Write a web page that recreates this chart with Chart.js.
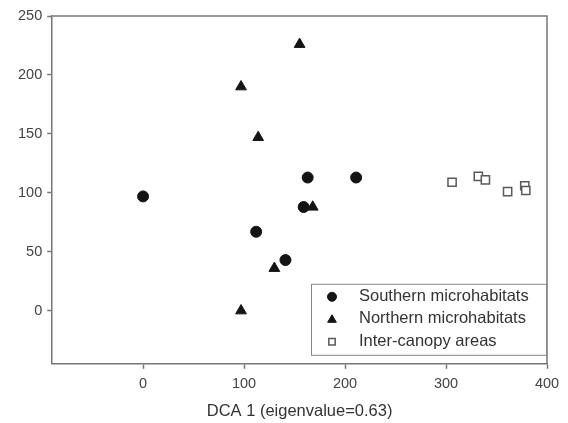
<!DOCTYPE html>
<html>
<head>
<meta charset="utf-8">
<script src="https://cdn.jsdelivr.net/npm/chart.js@4/dist/chart.umd.min.js"></script>
<style>
  html, body { margin: 0; padding: 0; background: #ffffff; }
  #wrap { width: 568px; height: 423px; position: relative; }
</style>
</head>
<body>
<div id="wrap"><canvas id="c" width="568" height="423"></canvas></div>
<script>
// ---- data ----
const seriesNames = ["Southern microhabitats", "Northern microhabitats", "Inter-canopy areas"];
const southernX = [0, 112, 141, 159, 163, 211];
const southernY = [97, 67, 43, 88, 113, 113];
const northernX = [97, 114, 155, 97, 130, 168];
const northernY = [190, 147, 226, 0, 36, 88];
const interX = [306, 332, 339, 361, 378, 379];
const interY = [109, 114, 111, 101, 106, 102];
const xTicks = [0, 100, 200, 300, 400];
const yTicks = [0, 50, 100, 150, 200, 250];
const xTitle = "DCA 1 (eigenvalue=0.63)";

const pts = (xs, ys) => xs.map((x, i) => ({ x: x, y: ys[i] }));
const AXIS = '#777777';
const FONT = "'Liberation Sans', Arial, sans-serif";

const frameAndLegend = {
  id: 'frameAndLegend',
  afterDatasetsDraw(chart) {
    const ctx = chart.ctx, a = chart.chartArea;
    ctx.save();
    // top and right frame lines
    ctx.strokeStyle = AXIS; ctx.lineWidth = 1.5;
    ctx.beginPath();
    ctx.moveTo(a.left, a.top); ctx.lineTo(a.right, a.top); ctx.lineTo(a.right, a.bottom);
    ctx.stroke();
    // legend box inside lower right
    const bw = 235, bh = 71;
    const bx = a.right - bw - 1, by = a.bottom - bh - 9;
    ctx.fillStyle = '#ffffff';
    ctx.fillRect(bx, by, bw, bh);
    ctx.strokeStyle = '#888888'; ctx.lineWidth = 1;
    ctx.strokeRect(bx + 0.5, by + 0.5, bw, bh);
    const rows = [by + 13, by + 35, by + 58];
    chart.data.datasets.forEach((ds, i) => {
      const mx = bx + 21, my = rows[i];
      ctx.fillStyle = ds.pointBackgroundColor;
      ctx.strokeStyle = ds.pointBorderColor;
      ctx.lineWidth = ds.pointBorderWidth;
      Chart.helpers.drawPoint(ctx, { pointStyle: ds.pointStyle, radius: ds.pointStyle === 'triangle' ? 5 : 4.5, borderWidth: ds.pointBorderWidth }, mx, my + (ds.pointStyle === 'triangle' ? 1 : 0));
      ctx.fillStyle = '#333333';
      ctx.font = "16.5px " + FONT;
      ctx.textBaseline = 'middle';
      ctx.textAlign = 'left';
      ctx.fillText(ds.label, bx + 48, my);
    });
    ctx.restore();
  }
};

new Chart(document.getElementById('c'), {
  type: 'scatter',
  data: {
    datasets: [
      { label: seriesNames[0], data: pts(southernX, southernY), pointStyle: 'circle', pointRadius: 5.5,
        pointBackgroundColor: '#141414', pointBorderColor: '#141414', pointBorderWidth: 1 },
      { label: seriesNames[1], data: pts(northernX, northernY), pointStyle: 'triangle', pointRadius: 6.2,
        pointBackgroundColor: '#141414', pointBorderColor: '#141414', pointBorderWidth: 1 },
      { label: seriesNames[2], data: pts(interX, interY), pointStyle: 'rect', pointRadius: 5.8,
        pointBackgroundColor: '#ffffff', pointBorderColor: '#5a5a5a', pointBorderWidth: 1.5 }
    ]
  },
  options: {
    responsive: false,
    animation: false,
    devicePixelRatio: 1,
    layout: { padding: { left: 13, top: 16, right: 21, bottom: 2 } },
    plugins: { legend: { display: false }, tooltip: { enabled: false } },
    scales: {
      x: {
        type: 'linear', min: -90, max: 400,
        afterBuildTicks: s => { s.ticks = xTicks.map(v => ({ value: v })); },
        grid: { drawOnChartArea: false, drawTicks: true, tickLength: 5, tickColor: AXIS, tickWidth: 1.5 },
        border: { display: true, color: AXIS, width: 1.5 },
        ticks: { color: '#444444', font: { family: FONT, size: 14.5 }, padding: 6, maxRotation: 0 },
        title: { display: true, text: xTitle, color: '#333333', font: { family: FONT, size: 16.5 }, padding: { top: 3, bottom: 0 } }
      },
      y: {
        type: 'linear', min: -45, max: 250,
        afterBuildTicks: s => { s.ticks = yTicks.map(v => ({ value: v })); },
        grid: { drawOnChartArea: false, drawTicks: true, tickLength: 5, tickColor: AXIS, tickWidth: 1.5 },
        border: { display: true, color: AXIS, width: 1.5 },
        ticks: { color: '#444444', font: { family: FONT, size: 14.5 }, padding: 5 }
      }
    }
  },
  plugins: [frameAndLegend]
});
</script>
</body>
</html>
